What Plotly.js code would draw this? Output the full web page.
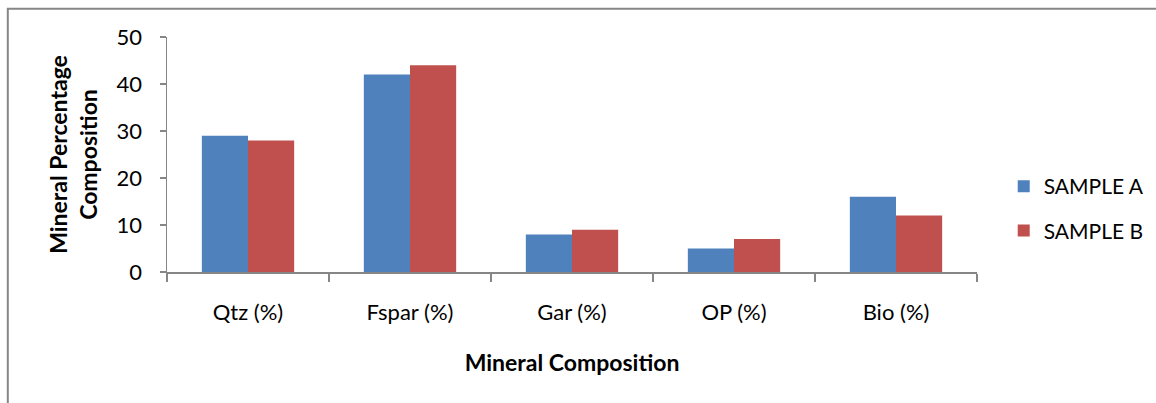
<!DOCTYPE html>
<html><head><meta charset="utf-8">
<script src="https://cdn.plot.ly/plotly-3.0.1.min.js"></script>
<style>html,body{margin:0;padding:0;background:#fff;}#chart{width:1156px;height:403px;}</style>
</head><body><div id="chart"></div>
<script>
const categories = ["Qtz (%)", "Fspar (%)", "Gar (%)", "OP (%)", "Bio (%)"];
const sampleA = [29, 42, 8, 5, 16];
const sampleB = [28, 44, 9, 7, 12];
const seriesNames = ["SAMPLE A", "SAMPLE B"];
const yTicks = [0, 10, 20, 30, 40, 50];

const FONT = "Lato, 'Open Sans', sans-serif";
const FS = 22;
const traces = [
  {type:'bar', x:categories, y:sampleA, name:seriesNames[0], marker:{color:'#4F81BD'}, legendgroup:'a'},
  {type:'bar', x:categories, y:sampleB, name:seriesNames[1], marker:{color:'#C0504D'}, legendgroup:'b'}
];
const L = 166.7, R = 976.7, T = 36.7, B = 271.7;
const layout = {
  width:1156, height:403,
  margin:{l:L, r:1156-R, t:T, b:403-B, pad:0, autoexpand:false},
  paper_bgcolor:'#fff', plot_bgcolor:'#fff',
  font:{family:FONT, size:FS, color:'#000'},
  barmode:'group', bargap:0.43, bargroupgap:0,
  showlegend:true,
  legend:{x:1.033, xanchor:'left', y:0.27, yanchor:'middle', font:{size:21, family:FONT}, tracegroupgap:14, itemwidth:30, bgcolor:'rgba(0,0,0,0)'},
  xaxis:{
    type:'category', showline:true, linecolor:'#868686', linewidth:1.5, automargin:false,
    ticks:'outside', tickson:'boundaries', ticklen:8, tickcolor:'#868686', tickwidth:1.5,
    showgrid:false, zeroline:false, ticklabelstandoff:20,
    tickfont:{size:FS, family:FONT},
    title:{text:'<b>Mineral Composition</b>', font:{size:23, family:FONT}, standoff:31}
  },
  yaxis:{
    range:[0,50], tickvals:yTicks, ticktext:yTicks.map(String), automargin:false,
    showline:true, linecolor:'#868686', linewidth:1.5,
    ticks:'outside', ticklen:6, tickcolor:'#868686', tickwidth:1.5,
    showgrid:false, zeroline:false, ticklabelstandoff:13,
    tickfont:{size:FS, family:FONT},
    title:{text:'<b>Mineral Percentage<br>Composition</b>', font:{size:23, family:FONT}, standoff:12}
  },
  shapes:[{type:'rect', xref:'paper', yref:'paper',
    x0:(7.5-L)/(R-L), x1:1.5, y0:-1, y1:(B-8.5)/(B-T),
    line:{color:'#868686', width:2}, fillcolor:'rgba(0,0,0,0)', layer:'below'}]
};
Plotly.newPlot('chart', traces, layout, {displayModeBar:false, staticPlot:true});
</script></body></html>
